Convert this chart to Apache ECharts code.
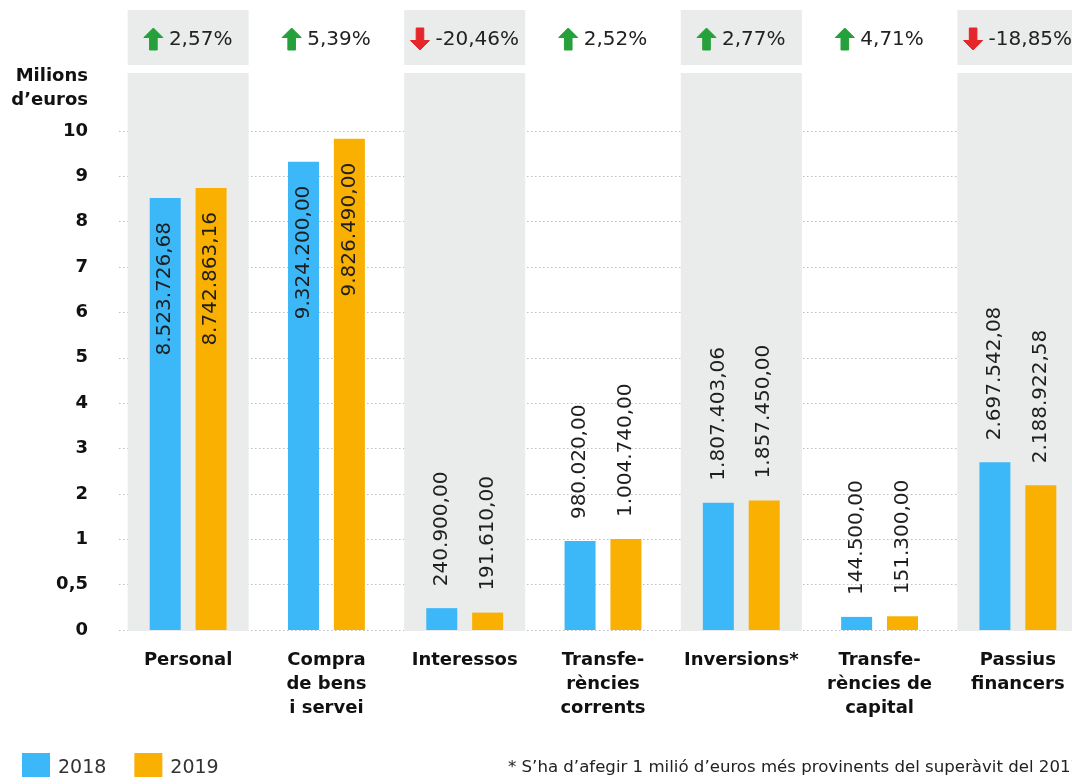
<!DOCTYPE html>
<html>
<head>
<meta charset="utf-8">
<script src="https://cdn.jsdelivr.net/npm/echarts@6/dist/echarts.min.js"></script>
<style>
  html, body { margin: 0; padding: 0; background: #fff; }
  #chart { width: 1072px; height: 777px; }
</style>
</head>
<body>
<div id="chart"></div>
<script>
// dades (euros)
const categories = ['Personal', 'Compra\nde bens\ni servei', 'Interessos', 'Transfe-\nrències\ncorrents', 'Inversions*', 'Transfe-\nrències de\ncapital', 'Passius\nfinancers'];
const values2018 = [8523726.68, 9324200.00, 240900.00, 980020.00, 1807403.06, 144500.00, 2697542.08];
const values2019 = [8742863.16, 9826490.00, 191610.00, 1004740.00, 1857450.00, 151300.00, 2188922.58];
const changes = [2.57, 5.39, -20.46, 2.52, 2.77, 4.71, -18.85];
const shadedCategories = [0, 2, 4, 6];
const yTickLabels = ['0', '0,5', '1', '2', '3', '4', '5', '6', '7', '8', '9', '10'];
const footnote = '* S\u2019ha d\u2019afegir 1 milió d\u2019euros més provinents del superàvit del 2017';

const BLUE = '#3cb8f9';
const ORANGE = '#f9b000';
const GREY = '#eaeceb';
const FONT = 'DejaVu Sans';

// eix trencat: 0-1 milió ocupa dos trams, després un tram per milió
function toAxis(m) {
  return m <= 1 ? m * 2 : m + 1;
}

function fmtCa(v, dec) {
  const parts = v.toFixed(dec).split('.');
  const ints = parts[0].replace(/\B(?=(\d{3})+(?!\d))/g, '.');
  return parts[1] ? ints + ',' + parts[1] : ints;
}

function barData(values) {
  return values.map(function (v) {
    const m = v / 1e6;
    const tall = m >= 5;
    return {
      value: toAxis(m),
      raw: v,
      label: tall
        ? { position: 'insideTop', rotate: 90, align: 'right', verticalAlign: 'middle', distance: 24 }
        : { position: 'top', rotate: 90, align: 'left', verticalAlign: 'middle', distance: 22 }
    };
  });
}

const measureCtx = document.createElement('canvas').getContext('2d');
measureCtx.font = '20px "' + FONT + '"';

const valueLabel = {
  show: true,
  fontFamily: FONT,
  fontSize: 20,
  color: '#1e1e1e',
  formatter: function (p) { return fmtCa(p.data.raw, 2); }
};

const myChart = echarts.init(document.getElementById('chart'));

const option = {
  animation: false,
  backgroundColor: '#fff',
  textStyle: { fontFamily: FONT },
  grid: { left: 119, top: 131, width: 968, height: 499, outerBoundsMode: 'none', containLabel: false },
  legend: {
    data: ['2018', '2019'],
    left: 17,
    top: 748,
    icon: 'rect',
    itemWidth: 28,
    itemHeight: 30,
    itemGap: 28,
    textStyle: { fontFamily: FONT, fontSize: 19, color: '#333', padding: [0, 0, 0, 3] }
  },
  xAxis: {
    type: 'category',
    data: categories,
    axisLine: { show: false },
    axisTick: { show: false },
    axisLabel: {
      interval: 0,
      margin: 18,
      verticalAlign: 'top',
      fontFamily: FONT,
      fontWeight: 'bold',
      fontSize: 18,
      lineHeight: 24,
      color: '#111'
    }
  },
  yAxis: {
    type: 'value',
    min: 0,
    max: 11,
    interval: 1,
    name: 'Milions\nd\u2019euros',
    nameLocation: 'end',
    nameGap: 19,
    nameTextStyle: {
      align: 'right',
      verticalAlign: 'bottom',
      fontFamily: FONT,
      fontWeight: 'bold',
      fontSize: 18,
      lineHeight: 24,
      color: '#111',
      padding: [0, 31, 0, 0]
    },
    axisLine: { show: false },
    axisTick: { show: false },
    axisLabel: {
      margin: 31,
      fontFamily: FONT,
      fontWeight: 'bold',
      fontSize: 18,
      color: '#111',
      formatter: function (v) { return yTickLabels[v]; }
    },
    splitLine: { lineStyle: { color: '#bdbdbd', type: [1.5, 2.5], width: 1 } }
  },
  series: [
    {
      // franges grises
      type: 'custom',
      z: 1,
      silent: true,
      clip: false,
      encode: { x: 0, y: 1 },
      data: shadedCategories.map(function (i) { return [i, 0]; }),
      renderItem: function (params, api) {
        const cs = params.coordSys;
        const cx = api.coord([api.value(0), 0])[0];
        const w = api.size([1, 0])[0] * 0.875;
        return {
          type: 'group',
          children: [
            { type: 'rect', shape: { x: cx - w / 2, y: cs.y - 121, width: w, height: 55 }, style: { fill: GREY } },
            { type: 'rect', shape: { x: cx - w / 2, y: cs.y - 58, width: w, height: cs.height + 59 }, style: { fill: GREY } }
          ]
        };
      }
    },
    {
      // variacio percentual
      type: 'custom',
      z: 3,
      silent: true,
      clip: false,
      encode: { x: 0, y: 1 },
      data: changes.map(function (c, i) { return [i, 0, c]; }),
      renderItem: function (params, api) {
        const cs = params.coordSys;
        const cx = api.coord([api.value(0), 0])[0];
        const c = api.value(2);
        const txt = fmtCa(c, 2) + '%';
        const tw = measureCtx.measureText(txt).width;
        const total = 19 + 6 + tw;
        const x0 = cx - total / 2;
        const cy = cs.y - 92;
        const t = cy - 11;
        const b = cy + 11;
        const up = c >= 0;
        const a = x0 + 9.5;
        const pts = up
          ? [[a, t], [a + 9.5, t + 9.5], [a + 3.8, t + 9.5], [a + 3.8, b], [a - 3.8, b], [a - 3.8, t + 9.5], [a - 9.5, t + 9.5]]
          : [[a, b], [a + 9.5, b - 9.5], [a + 3.8, b - 9.5], [a + 3.8, t], [a - 3.8, t], [a - 3.8, b - 9.5], [a - 9.5, b - 9.5]];
        return {
          type: 'group',
          children: [
            { type: 'polygon', shape: { points: pts }, style: { fill: up ? '#26a03a' : '#e5262b', stroke: up ? '#26a03a' : '#e5262b', lineWidth: 1, lineJoin: 'round' } },
            {
              type: 'text',
              style: {
                text: txt, x: x0 + 25, y: cy + 1,
                fill: '#222', font: '20px "' + FONT + '"',
                align: 'left', verticalAlign: 'middle'
              }
            }
          ]
        };
      }
    },
    {
      name: '2018',
      type: 'bar',
      barWidth: 31,
      barGap: '48%',
      itemStyle: { color: BLUE },
      label: valueLabel,
      data: barData(values2018)
    },
    {
      name: '2019',
      type: 'bar',
      barWidth: 31,
      barGap: '48%',
      itemStyle: { color: ORANGE },
      label: valueLabel,
      data: barData(values2019)
    }
  ],
  graphic: [
    {
      type: 'text',
      left: 508,
      top: 759,
      style: { text: footnote, font: '16.6px "' + FONT + '"', fill: '#222' }
    }
  ]
};

myChart.setOption(option);
</script>
</body>
</html>
